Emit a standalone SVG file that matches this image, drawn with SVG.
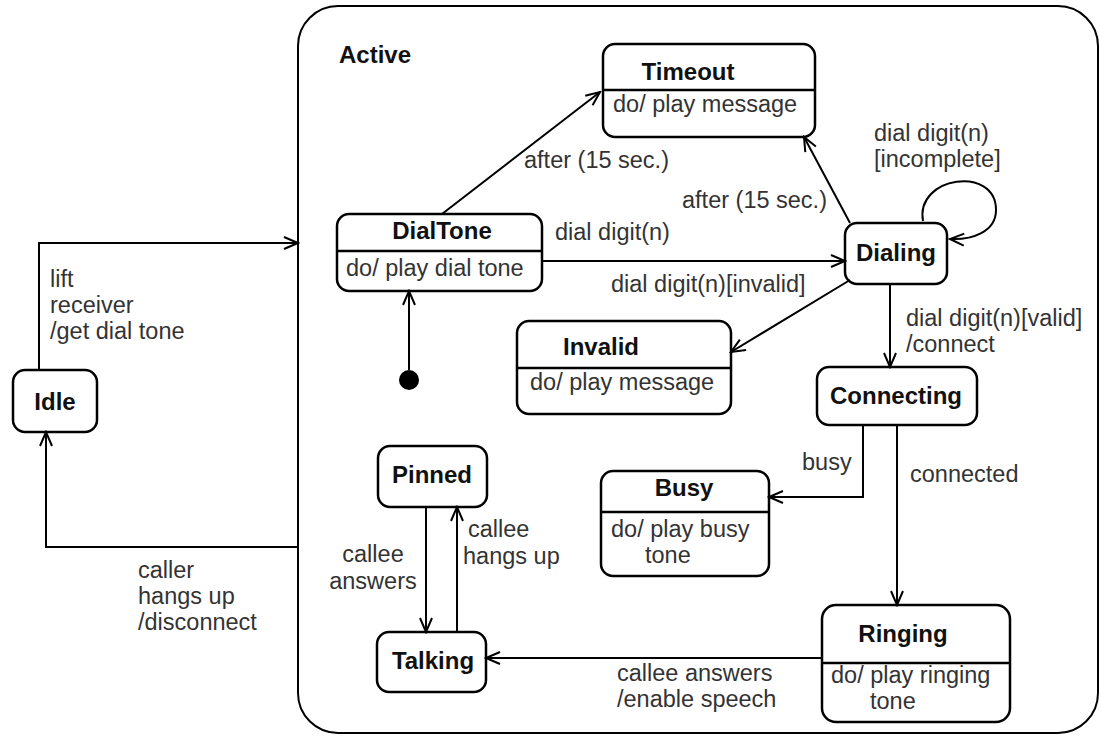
<svg xmlns="http://www.w3.org/2000/svg" width="1100" height="736" viewBox="0 0 1100 736">
<defs>
<marker id="arr" viewBox="-16 -8 18 16" refX="0" refY="0" markerWidth="18" markerHeight="16" markerUnits="userSpaceOnUse" orient="auto">
<path d="M-14,-6 L0,0 L-14,6" fill="none" stroke="#000" stroke-width="2"/>
</marker>
</defs>
<style>
.box{fill:#fff;stroke:#000;stroke-width:2.5}
.div{stroke:#000;stroke-width:2.5}
.t{font-family:"Liberation Sans",Arial,sans-serif;font-size:24px;font-weight:bold;fill:#111}
.l{font-family:"Liberation Sans",Arial,sans-serif;font-size:23.5px;fill:#333}
.c{fill:none;stroke:#000;stroke-width:2;marker-end:url(#arr)}
.m{text-anchor:middle}
</style>
<rect width="1100" height="736" fill="#fff"/>
<g id="Active">
<rect x="298" y="6" width="800" height="727" rx="40" ry="40" fill="none" stroke="#000" stroke-width="2"/>
<text class="t" x="339" y="63">Active</text>
</g>
<g id="Idle">
<rect class="box" x="13" y="370" width="84" height="62" rx="12"/>
<text class="t m" x="55" y="410">Idle</text>
</g>
<g id="Timeout">
<rect class="box" x="603" y="44" width="212" height="93" rx="12"/>
<line class="div" x1="603" y1="90" x2="815" y2="90"/>
<text class="t m" x="688" y="80">Timeout</text>
<text class="l" x="613" y="112">do/ play message</text>
</g>
<g id="DialTone">
<rect class="box" x="337" y="214" width="205" height="77" rx="12"/>
<line class="div" x1="337" y1="251" x2="542" y2="251"/>
<text class="t m" x="442" y="239">DialTone</text>
<text class="l" x="346" y="276">do/ play dial tone</text>
</g>
<g id="Initial">
<circle cx="409" cy="380" r="10" fill="#000"/>
</g>
<g id="Dialing">
<rect class="box" x="845" y="223" width="102" height="61" rx="12"/>
<text class="t m" x="896" y="261">Dialing</text>
</g>
<g id="Invalid">
<rect class="box" x="517" y="321" width="214" height="93" rx="12"/>
<line class="div" x1="517" y1="368" x2="731" y2="368"/>
<text class="t m" x="601" y="355">Invalid</text>
<text class="l" x="530" y="390">do/ play message</text>
</g>
<g id="Connecting">
<rect class="box" x="817" y="367" width="160" height="58" rx="12"/>
<text class="t m" x="896" y="404">Connecting</text>
</g>
<g id="Pinned">
<rect class="box" x="378" y="446" width="109" height="61" rx="12"/>
<text class="t m" x="432" y="483">Pinned</text>
</g>
<g id="Busy">
<rect class="box" x="601" y="471" width="168" height="105" rx="12"/>
<line class="div" x1="601" y1="512" x2="769" y2="512"/>
<text class="t m" x="684" y="496">Busy</text>
<text class="l" x="611" y="537">do/ play busy</text>
<text class="l" x="645" y="563">tone</text>
</g>
<g id="Talking">
<rect class="box" x="377" y="632" width="109" height="60" rx="12"/>
<text class="t m" x="433" y="669">Talking</text>
</g>
<g id="Ringing">
<rect class="box" x="822" y="605" width="188" height="117" rx="14"/>
<line class="div" x1="822" y1="663" x2="1010" y2="663"/>
<text class="t m" x="903" y="642">Ringing</text>
<text class="l" x="831" y="683">do/ play ringing</text>
<text class="l" x="870" y="709">tone</text>
</g>
<g id="connectors">
<path class="c" d="M39,370 V243 H298"/>
<path class="c" d="M298,547 H46 V432"/>
<path class="c" d="M409,370 V291"/>
<path class="c" d="M442,214 L600,92"/>
<path class="c" d="M850,223 L804,137"/>
<path class="c" d="M542,261 H845"/>
<path class="c" d="M850,280 L731,352"/>
<path class="c" d="M890,284 V367"/>
<path class="c" d="M923,221 C915,176 996,165 996,210 C996,232 972,240 950,239"/>
<path class="c" d="M863,425 V497 H769"/>
<path class="c" d="M897,425 V605"/>
<path class="c" d="M822,658 H486"/>
<path class="c" d="M426,507 V632"/>
<path class="c" d="M457,632 V507"/>
</g>
<g id="labels">
<text class="l" x="50" y="287">lift</text>
<text class="l" x="50" y="313">receiver</text>
<text class="l" x="50" y="339">/get dial tone</text>
<text class="l" x="138" y="578">caller</text>
<text class="l" x="138" y="604">hangs up</text>
<text class="l" x="138" y="630">/disconnect</text>
<text class="l" x="524" y="168">after (15 sec.)</text>
<text class="l" x="682" y="208">after (15 sec.)</text>
<text class="l" x="555" y="240">dial digit(n)</text>
<text class="l" x="611" y="292">dial digit(n)[invalid]</text>
<text class="l" x="874" y="141">dial digit(n)</text>
<text class="l" x="874" y="167">[incomplete]</text>
<text class="l" x="906" y="326">dial digit(n)[valid]</text>
<text class="l" x="906" y="352">/connect</text>
<text class="l" x="802" y="470">busy</text>
<text class="l" x="910" y="482">connected</text>
<text class="l m" x="373" y="562">callee</text>
<text class="l m" x="373" y="589">answers</text>
<text class="l" x="468" y="537">callee</text>
<text class="l" x="463" y="564">hangs up</text>
<text class="l" x="617" y="681">callee answers</text>
<text class="l" x="617" y="707">/enable speech</text>
</g>
</svg>
